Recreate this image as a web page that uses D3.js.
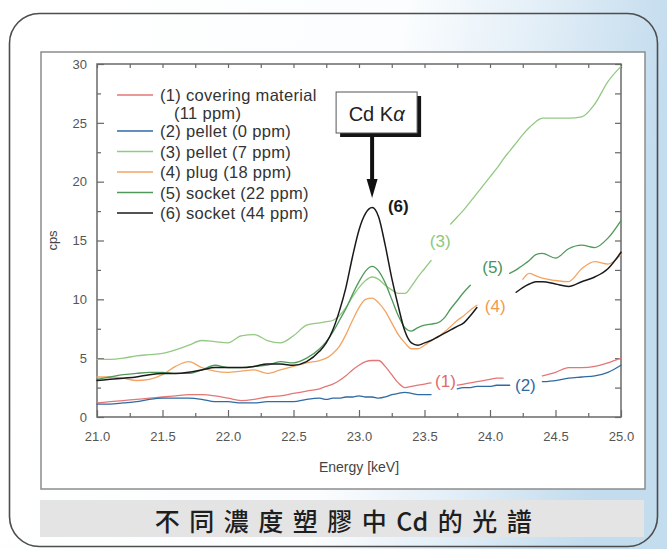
<!DOCTYPE html>
<html>
<head>
<meta charset="utf-8">
<script src="https://cdn.jsdelivr.net/npm/d3@7"></script>
<style>
  html, body { margin: 0; padding: 0; background: #fff; }
  svg { display: block; }
</style>
</head>
<body>
<svg id="chart" width="667" height="549"></svg>
<script>
// Energy grid (keV) shared by all spectra
const energy = [
  21.0, 21.1, 21.2, 21.3, 21.4, 21.5, 21.6, 21.7, 21.8, 21.9,
  22.0, 22.1, 22.2, 22.3, 22.4, 22.5, 22.6, 22.7,
  22.75, 22.8, 22.85, 22.9, 22.95, 23.0, 23.05, 23.1, 23.15, 23.2,
  23.25, 23.3, 23.35, 23.4, 23.45, 23.5, 23.55, 23.6, 23.65, 23.7,
  23.75, 23.8, 23.85, 23.9, 23.95, 24.0, 24.05, 24.1, 24.15, 24.2,
  24.25, 24.3, 24.35, 24.4,
  24.5, 24.6, 24.7, 24.8, 24.9, 25.0
];

// Count rates (cps); null leaves room for the curve tags
const covering11 = [
  1.2, 1.3, 1.4, 1.5, 1.6, 1.7, 1.8, 1.9, 1.9, 1.8,
  1.6, 1.4, 1.5, 1.7, 1.8, 2.0, 2.2, 2.4,
  2.6, 2.8, 3.1, 3.5, 4.0, 4.4, 4.7, 4.8, 4.8, 4.3,
  3.6, 2.9, 2.5, 2.6, 2.7, 2.8, 2.9, null, null, null,
  2.7, 2.8, 2.9, 3.0, 3.1, 3.2, 3.3, 3.3, null, null,
  null, null, null, 3.5,
  3.8, 4.2, 4.2, 4.3, 4.6, 5.0
];
const pellet0 = [
  1.1, 1.1, 1.2, 1.3, 1.5, 1.6, 1.6, 1.6, 1.5, 1.3,
  1.3, 1.2, 1.2, 1.3, 1.3, 1.3, 1.5, 1.6,
  1.5, 1.6, 1.6, 1.7, 1.7, 1.8, 1.7, 1.7, 1.6, 1.7,
  1.9, 2.0, 2.1, 2.0, 1.9, 1.9, 1.9, null, null, null,
  2.4, 2.5, 2.5, 2.6, 2.6, 2.6, 2.7, 2.7, 2.7, null,
  null, null, null, 3.0,
  3.1, 3.3, 3.4, 3.5, 3.8, 4.4
];
const pellet7 = [
  4.9, 4.9, 5.0, 5.2, 5.3, 5.4, 5.7, 6.1, 6.5, 6.4,
  6.3, 6.9, 7.0, 6.5, 6.3, 6.9, 7.8, 8.0,
  8.1, 8.2, 8.6, 9.3, 10.2, 11.0, 11.6, 11.9, 11.7, 11.2,
  10.8, 10.5, 10.5, 11.1, 11.9, 12.6, 13.3, null, null, 16.4,
  17.0, 17.6, 18.3, 19.0, 19.7, 20.4, 21.1, 21.9, 22.6, 23.3,
  24.0, 24.6, 25.1, 25.4,
  25.4, 25.4, 25.5, 26.6, 28.5, 29.8
];
const plug18 = [
  3.4, 3.4, 3.3, 3.1, 3.2, 3.6, 4.3, 4.7, 4.2, 3.9,
  3.8, 3.9, 4.0, 3.7, 4.0, 4.3, 4.6, 4.8,
  5.0, 5.4, 6.0, 7.0, 8.2, 9.3, 10.0, 10.1, 9.7, 9.0,
  8.0, 7.0, 6.3, 5.8, 5.8, 6.1, 6.5, 6.8, 7.2, 7.7,
  8.2, 8.6, 9.1, 9.5, null, null, null, null, null, null,
  11.7, 12.2, 12.0, 11.8,
  11.6, 11.5, 12.6, 13.2, 13.0, 13.8
];
const socket22 = [
  3.2, 3.4, 3.6, 3.7, 3.8, 3.8, 3.7, 3.7, 4.0, 4.4,
  4.2, 4.2, 4.3, 4.4, 4.7, 4.6, 5.0, 5.8,
  6.4, 7.2, 8.2, 9.2, 10.4, 11.5, 12.4, 12.8, 12.4, 11.4,
  10.0, 8.6, 7.6, 7.3, 7.6, 7.8, 7.9, 8.0, 8.4, 9.2,
  9.9, 10.6, 11.2, null, null, null, null, null, 12.2, 12.5,
  12.9, 13.3, 13.8, 13.9,
  13.5, 14.3, 14.6, 14.4, 15.2, 16.7
];
const socket44 = [
  3.1, 3.2, 3.3, 3.4, 3.6, 3.7, 3.7, 3.8, 4.0, 4.2,
  4.2, 4.2, 4.3, 4.5, 4.5, 4.4, 4.7, 5.6,
  6.3, 7.4, 9.0, 11.0, 13.6, 15.9, 17.3, 17.8, 17.0, 14.6,
  11.8, 9.4, 7.3, 6.3, 6.1, 6.3, 6.5, 6.8, 7.1, 7.4,
  7.7, 8.0, 8.6, 9.3, null, null, null, null, null, 10.6,
  11.0, 11.3, 11.5, 11.5,
  11.3, 11.1, 11.5, 11.9, 12.6, 14.0
];

const seriesValues = [covering11, pellet0, pellet7, plug18, socket22, socket44];
const seriesNames = [
  "(1) covering material",
  "(2) pellet (0 ppm)",
  "(3) pellet (7 ppm)",
  "(4) plug (18 ppm)",
  "(5) socket (22 ppm)",
  "(6) socket (44 ppm)"
];
const seriesSubNames = ["(11 ppm)", null, null, null, null, null];
const seriesTags = ["(1)", "(2)", "(3)", "(4)", "(5)", "(6)"];
const tagEnergy = [23.66, 24.27, 23.62, 24.04, 24.02, 23.30];
const tagCps = [3.0, 2.7, 14.9, 9.35, 12.7, 17.9];

const xTicks = [21.0, 21.5, 22.0, 22.5, 23.0, 23.5, 24.0, 24.5, 25.0];
const xMinorTicks = [21.25, 21.75, 22.25, 22.75, 23.25, 23.75, 24.25, 24.75];
const yTicks = [0, 5, 10, 15, 20, 25, 30];
const yMinorTicks = [2.5, 7.5, 12.5, 17.5, 22.5, 27.5];
const peakEnergy = 23.1;

// Caption pieces: CJK runs are spaced out, "Cd" stays tight
const captionParts = ["不同濃度塑膠中", "C", "d的光譜"];

// Styling
const lineColors = ["#e47676", "#2f6aa3", "#93c982", "#f3a462", "#4f9a5a", "#1a1a1a"];
const tagColors  = ["#e06a6a", "#2f6aa3", "#8cc878", "#f09a50", "#4a955a", "#1a1a1a"];
const lineWidths = [1.3, 1.3, 1.3, 1.3, 1.3, 1.5];

const svg = d3.select("#chart");
const W = 667, H = 549;
const plot = { left: 97, right: 621, top: 64, bottom: 417 };

const x = d3.scaleLinear().domain([21, 25]).range([plot.left, plot.right]);
const y = d3.scaleLinear().domain([0, 30]).range([plot.bottom, plot.top]);

// ---- background wash and frames ----
const defs = svg.append("defs");
const wash = defs.append("linearGradient").attr("id", "wash")
  .attr("x1", "0").attr("y1", "0").attr("x2", "1").attr("y2", "0.15");
wash.append("stop").attr("offset", "0").attr("stop-color", "#ffffff");
wash.append("stop").attr("offset", "0.6").attr("stop-color", "#fbfdfe");
wash.append("stop").attr("offset", "0.8").attr("stop-color", "#e2eef7");
wash.append("stop").attr("offset", "0.92").attr("stop-color", "#cfe3f1");
wash.append("stop").attr("offset", "1").attr("stop-color", "#c3dcee");

svg.append("rect").attr("x", 0).attr("y", 0).attr("width", W).attr("height", H)
  .attr("fill", "url(#wash)");

svg.append("rect")
  .attr("x", 9.5).attr("y", 13.5).attr("width", 648).attr("height", 533)
  .attr("rx", 30).attr("ry", 30)
  .attr("fill", "none").attr("stroke", "#4d4d4d").attr("stroke-width", 1.6);

svg.append("rect")
  .attr("x", 41).attr("y", 52).attr("width", 604).attr("height", 437)
  .attr("fill", "#ffffff").attr("stroke", "#8c8c8c").attr("stroke-width", 1.5);

// caption strip
svg.append("rect")
  .attr("x", 40).attr("y", 500).attr("width", 604).attr("height", 37)
  .attr("fill", "#e4e4e4");
const caption = svg.append("text")
  .attr("x", 348).attr("y", 520)
  .attr("text-anchor", "middle").attr("dominant-baseline", "central")
  .attr("font-family", "'Noto Sans CJK TC', 'Noto Sans CJK SC', sans-serif")
  .attr("font-size", 25).attr("font-weight", 500)
  .attr("fill", "#1e1e1e");
captionParts.forEach((part, i) => {
  caption.append("tspan")
    .attr("letter-spacing", i === 1 ? 0 : 9.5)
    .text(part);
});

// ---- axes ----
const tickFont = "'Liberation Sans', Arial, sans-serif";
function styleAxis(g) {
  g.select(".domain").remove();
  g.selectAll(".tick line").attr("stroke", "#666").attr("stroke-width", 1.2);
  g.selectAll(".tick text").attr("fill", "#555").attr("font-size", 13)
    .attr("font-family", tickFont);
}

svg.append("g").attr("transform", `translate(0,${plot.bottom})`)
  .call(d3.axisBottom(x).tickValues(xTicks).tickFormat(d3.format(".1f"))
    .tickSizeInner(-7).tickSizeOuter(0).tickPadding(15))
  .call(styleAxis);
svg.append("g").attr("transform", `translate(0,${plot.bottom})`)
  .call(d3.axisBottom(x).tickValues(xMinorTicks).tickFormat("")
    .tickSizeInner(-4).tickSizeOuter(0))
  .call(styleAxis);
svg.append("g").attr("transform", `translate(0,${plot.top})`)
  .call(d3.axisTop(x).tickValues(xTicks.concat(xMinorTicks)).tickFormat("")
    .tickSizeInner(-4).tickSizeOuter(0))
  .call(styleAxis);

svg.append("g").attr("transform", `translate(${plot.left},0)`)
  .call(d3.axisLeft(y).tickValues(yTicks).tickFormat(d3.format("d"))
    .tickSizeInner(-7).tickSizeOuter(0).tickPadding(10))
  .call(styleAxis);
svg.append("g").attr("transform", `translate(${plot.left},0)`)
  .call(d3.axisLeft(y).tickValues(yMinorTicks).tickFormat("")
    .tickSizeInner(-4).tickSizeOuter(0))
  .call(styleAxis);
svg.append("g").attr("transform", `translate(${plot.right},0)`)
  .call(d3.axisRight(y).tickValues(yTicks.concat(yMinorTicks)).tickFormat("")
    .tickSizeInner(-6).tickSizeOuter(0))
  .call(styleAxis);

svg.append("rect")
  .attr("x", plot.left).attr("y", plot.top)
  .attr("width", plot.right - plot.left).attr("height", plot.bottom - plot.top)
  .attr("fill", "none").attr("stroke", "#6a6a6a").attr("stroke-width", 1.5);

svg.append("text")
  .attr("x", (plot.left + plot.right) / 2).attr("y", 467)
  .attr("text-anchor", "middle").attr("dominant-baseline", "central")
  .attr("font-family", tickFont).attr("font-size", 14).attr("fill", "#444")
  .text("Energy [keV]");

svg.append("text")
  .attr("transform", `translate(52,${(plot.top + plot.bottom) / 2}) rotate(-90)`)
  .attr("text-anchor", "middle").attr("dominant-baseline", "central")
  .attr("font-family", tickFont).attr("font-size", 13).attr("fill", "#444")
  .text("cps");

// ---- spectra ----
const line = d3.line()
  .defined(d => d[1] != null)
  .x(d => x(d[0]))
  .y(d => y(d[1]))
  .curve(d3.curveMonotoneX);

const curves = svg.append("g").attr("fill", "none")
  .attr("stroke-linejoin", "round").attr("stroke-linecap", "round");
seriesValues.forEach((vals, i) => {
  curves.append("path")
    .datum(energy.map((e, k) => [e, vals[k]]))
    .attr("d", line)
    .attr("stroke", lineColors[i])
    .attr("stroke-width", lineWidths[i]);
});

// curve tags
seriesTags.forEach((t, i) => {
  svg.append("text")
    .attr("x", x(tagEnergy[i])).attr("y", y(tagCps[i]))
    .attr("text-anchor", "middle").attr("dominant-baseline", "central")
    .attr("font-family", tickFont).attr("font-size", 17)
    .attr("font-weight", i === 5 ? 600 : 400)
    .attr("fill", tagColors[i])
    .text(t);
});

// ---- legend ----
const legendRowY = [95, 131, 151.5, 172, 192.5, 213];
const legendFont = { size: 16.5, spacing: 0.3 };
const legend = svg.append("g");
seriesNames.forEach((name, i) => {
  const ly = legendRowY[i];
  legend.append("line")
    .attr("x1", 117).attr("x2", 153).attr("y1", ly).attr("y2", ly)
    .attr("stroke", lineColors[i]).attr("stroke-width", 1.3);
  legend.append("text")
    .attr("x", 160).attr("y", ly).attr("dominant-baseline", "central")
    .attr("font-family", tickFont).attr("font-size", legendFont.size)
    .attr("letter-spacing", legendFont.spacing).attr("fill", "#333")
    .text(name);
  if (seriesSubNames[i]) {
    legend.append("text")
      .attr("x", 174).attr("y", ly + 18).attr("dominant-baseline", "central")
      .attr("font-family", tickFont).attr("font-size", legendFont.size)
      .attr("letter-spacing", legendFont.spacing).attr("fill", "#333")
      .text(seriesSubNames[i]);
  }
});

// ---- Cd K-alpha callout ----
const px = x(peakEnergy);
const box = { x: px - 36, y: 92, w: 81, h: 41 };
svg.append("rect")
  .attr("x", box.x + 4).attr("y", box.y + 4).attr("width", box.w).attr("height", box.h)
  .attr("fill", "#151515");
svg.append("rect")
  .attr("x", box.x).attr("y", box.y).attr("width", box.w).attr("height", box.h)
  .attr("fill", "#fff").attr("stroke", "#555").attr("stroke-width", 1);
const lab = svg.append("text")
  .attr("x", box.x + box.w / 2).attr("y", box.y + box.h / 2 + 1)
  .attr("text-anchor", "middle").attr("dominant-baseline", "central")
  .attr("font-family", tickFont).attr("font-size", 20).attr("fill", "#222");
lab.append("tspan").text("Cd K");
lab.append("tspan").attr("font-style", "italic").text("α");

svg.append("line")
  .attr("x1", px).attr("x2", px).attr("y1", box.y + box.h + 4).attr("y2", 182)
  .attr("stroke", "#111").attr("stroke-width", 4);
svg.append("path")
  .attr("d", `M${px - 5.5},179 L${px + 5.5},179 L${px},198 Z`)
  .attr("fill", "#111");
</script>
</body>
</html>
